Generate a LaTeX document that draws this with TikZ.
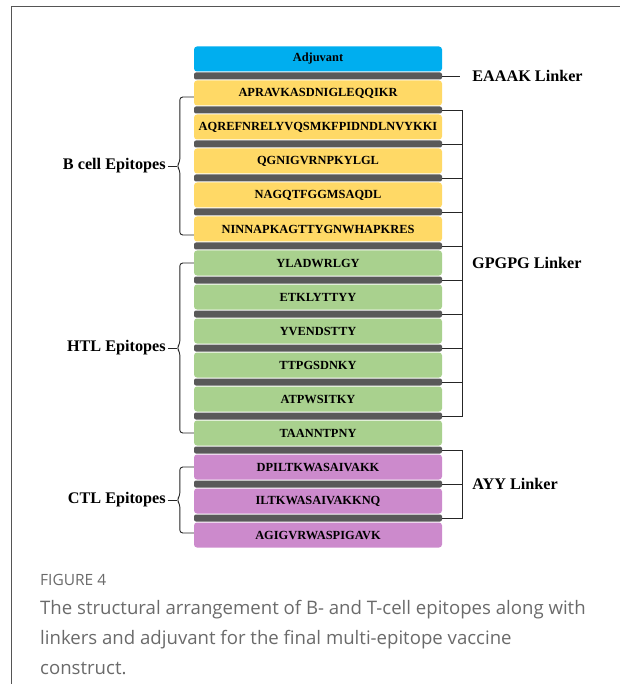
\documentclass[tikz,border=0pt]{standalone}
\usepackage{fontspec}
\setmainfont{Liberation Serif}
\newfontfamily\capfont{Open Sans}
\usetikzlibrary{positioning,calc}
\definecolor{adjblue}{HTML}{00AEEF}
\definecolor{bcell}{HTML}{FFD966}
\definecolor{htl}{HTML}{A9D18E}
\definecolor{ctl}{HTML}{CC8ACC}
\definecolor{linkgray}{HTML}{595959}
\definecolor{capgray}{HTML}{6A6A6A}

\begin{document}
\begin{tikzpicture}[x=1pt,y=-1pt,
    seqbox/.style={rounded corners=3pt, minimum width=248pt, minimum height=25pt, inner sep=0pt,
        font=\fontsize{12.4}{13}\selectfont\bfseries},
    linkbar/.style={fill=linkgray, rounded corners=2pt, minimum width=248pt, minimum height=7pt, inner sep=0pt},
    grp/.style={font=\fontsize{16.2}{17}\selectfont\bfseries, inner sep=2pt},
    brk/.style={line width=0.9pt, black!85}]
\useasboundingbox (0,0) rectangle (620,684);

% Draw frame
\draw[capgray!80!black, line width=1pt] (11,684) -- (11,7) -- (620,7);

% Draw linkers
\foreach \i in {0,...,13} {
    \node[linkbar] (l\i) at (318,{76+34*\i}) {};
}

% Draw adjuvant and epitopes
\foreach \i/\seq/\col in {0/Adjuvant/adjblue,
    1/APRAVKASDNIGLEQQIKR/bcell, 2/AQREFNRELYVQSMKFPIDNDLNVYKKI/bcell,
    3/QGNIGVRNPKYLGL/bcell, 4/NAGQTFGGMSAQDL/bcell, 5/NINNAPKAGTTYGNWHAPKRES/bcell,
    6/YLADWRLGY/htl, 7/ETKLYTTYY/htl, 8/YVENDSTTY/htl, 9/TTPGSDNKY/htl,
    10/ATPWSITKY/htl, 11/TAANNTPNY/htl,
    12/DPILTKWASAIVAKK/ctl, 13/ILTKWASAIVAKKNQ/ctl, 14/AGIGVRWASPIGAVK/ctl} {
    \node[seqbox, fill=\col] (b\i) at (318,{59+34*\i}) {\seq};
}

% Linker labels on the right
\draw[brk] (l0.east) -- ++(18,0);
\node[grp, right=28pt of l0] (eaaak) {EAAAK Linker};

\draw[brk] (l1.east) -- ++(20,0) |- (l10.east);
\foreach \i in {2,...,9} {
    \draw[brk] (l\i.east) -- ++(20,0);
}
\node[grp, anchor=west] (gpgpg) at (470,263) {GPGPG Linker};

\draw[brk] (l11.east) -- ++(20,0) |- (l13.east);
\draw[brk] (l12.east) -- ++(20,0);
\node[grp, right=28pt of l12] (ayy) {AYY Linker};

% Epitope braces on the left
\foreach \top/\bot/\dt/\db/\nm/\txt in {b1/b5/4/6/bepi/B cell Epitopes, b6/b11/0/0/hepi/HTL Epitopes,
    b12/b14/0/-2/cepi/CTL Epitopes} {
    \coordinate (\nm t) at ($(\top.west)+(0,\dt)$);
    \coordinate (\nm b) at ($(\bot.west)+(0,\db)$);
    \coordinate (\nm m) at ($(\nm t)!.5!(\nm b)+(-15,0)$);
    \draw[brk, rounded corners=3pt] (\nm t) -- ++(-14,0) -- ($(\nm m)+(1,-4)$) -- ($(\nm m)+(-2,0)$)
        -- ($(\nm m)+(1,4)$) -- ($(\nm b)+(-14,0)$) -- (\nm b);
    \node[grp, anchor=east] (\nm) at ($(\nm m)+(-11,0)$) {\txt};
    \draw[brk] (\nm.east) -- ($(\nm m)+(-2,0)$);
}

% Caption
\node[anchor=west, inner sep=0pt, text=capgray, font=\capfont\fontsize{15.5}{17}\selectfont] (fig) at (40,580) {FIGURE 4};
\node[anchor=north west, align=left, inner sep=0pt, text=capgray, font=\capfont\fontsize{18.6}{30}\selectfont]
    (cap) at (40,600) {The structural arrangement of B- and T-cell epitopes along with\\
    linkers and adjuvant for the final multi-epitope vaccine\\construct.};
\end{tikzpicture}
\end{document}
